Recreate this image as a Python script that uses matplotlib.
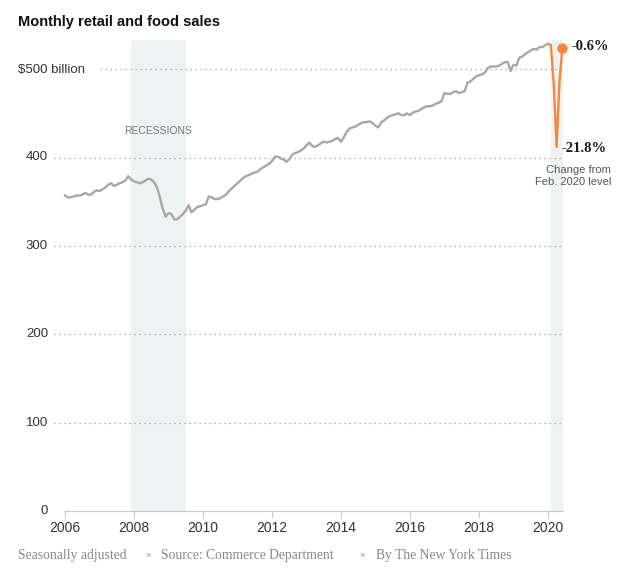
import numpy as np
import matplotlib
matplotlib.use('Agg')
import matplotlib.pyplot as plt

# monthly retail and food sales, $ billion, Jan 2006 - Jun 2020
sales_2006 = [357, 355, 355, 356, 357, 357, 358, 360, 358, 358, 361, 363]
sales_2007 = [362, 364, 366, 369, 371, 368, 369, 371, 372, 374, 379, 375]
sales_2008 = [373, 372, 371, 372, 374, 376, 375, 372, 366, 355, 342, 333]
sales_2009 = [337, 336, 330, 330, 333, 336, 340, 346, 338, 341, 344, 345]
sales_2010 = [346, 347, 356, 355, 353, 353, 354, 356, 358, 362, 365, 368]
sales_2011 = [371, 374, 377, 379, 380, 382, 383, 384, 387, 389, 391, 393]
sales_2012 = [396, 401, 401, 399, 398, 395, 398, 403, 405, 406, 408, 410]
sales_2013 = [414, 417, 413, 412, 414, 416, 418, 417, 418, 419, 421, 422]
sales_2014 = [418, 423, 429, 433, 434, 435, 437, 439, 440, 440, 441, 439]
sales_2015 = [436, 434, 440, 442, 445, 447, 448, 449, 450, 448, 448, 450]
sales_2016 = [448, 451, 452, 453, 455, 457, 458, 458, 459, 461, 462, 464]
sales_2017 = [473, 472, 472, 474, 475, 473, 474, 475, 485, 486, 489, 492]
sales_2018 = [493, 494, 496, 501, 503, 503, 503, 504, 506, 508, 508, 498]
sales_2019 = [505, 504, 513, 514, 517, 519, 521, 523, 522, 525, 525, 527]
sales_2020 = [529, 527, 483, 412, 486, 524]

recessions = [(2007 + 11 / 12, 2009.5), (2020 + 1 / 12, 2020.435)]
yticks = [0, 100, 200, 300, 400, 500]
xticks = [2006, 2008, 2010, 2012, 2014, 2016, 2018, 2020]

sales = np.array(sales_2006 + sales_2007 + sales_2008 + sales_2009 + sales_2010 +
                 sales_2011 + sales_2012 + sales_2013 + sales_2014 + sales_2015 +
                 sales_2016 + sales_2017 + sales_2018 + sales_2019 + sales_2020, dtype=float)
dates = 2006 + np.arange(len(sales)) / 12.0
feb = 169  # index of Feb 2020

W, H = 628, 583
fig = plt.figure(figsize=(W / 100, H / 100), dpi=100)
ax = fig.add_axes([65 / W, (H - 511) / H, (563 - 65) / W, (511 - 40) / H])
ax.set_xlim(2006, 2020.435)
ax.set_ylim(0, 533)

for a, b in recessions:
    ax.axvspan(a, b, color='#eff2f3', lw=0, zorder=0)

# dotted gridlines
for v in yticks[1:]:
    start = 2007.01 if v == 500 else 2005.68
    ax.hlines(v, start, 2020.41, colors='#9a9a9a', lw=0.9,
              linestyles=(0, (1, 3)), clip_on=False, zorder=1)

ax.plot(dates[:feb + 1], sales[:feb + 1], color='#aaa6a2', lw=1.7, zorder=3,
        solid_joinstyle='round', clip_on=False)
ax.plot(dates[feb:], sales[feb:], color='#f5883e', lw=1.7, zorder=4,
        solid_joinstyle='round', clip_on=False)
ax.plot(dates[-1], sales[-1], 'o', color='#f5883e', ms=6.5, zorder=5, clip_on=False)

for s in ['top', 'right', 'left']:
    ax.spines[s].set_visible(False)
ax.spines['bottom'].set_color('#c8c8c8')
ax.set_yticks([])
ax.set_xticks(xticks)
ax.set_xticklabels([str(x) for x in xticks], fontsize=10, color='#333333',
                   family='Liberation Sans')
ax.tick_params(axis='x', length=5, color='#c8c8c8', pad=2)

# y labels
for v in yticks[:-1]:
    y_px = 511 - v * 0.884
    fig.text(48 / W, 1 - y_px / H, str(v), ha='right', va='center',
             fontsize=9.5, color='#333333', family='Liberation Sans')
fig.text(18 / W, 1 - 70 / H, '$500 billion', ha='left', va='center',
         fontsize=9.5, color='#333333', family='Liberation Sans')

ax.text(sum(recessions[0]) / 2, 430, 'RECESSIONS', ha='center', va='center',
        fontsize=7.5, color='#777777', family='Liberation Sans')

# annotations
fig.text(572 / W, 1 - 47 / H, '-0.6%', ha='left', va='center', fontsize=10.5,
         fontweight='bold', color='#1a1a1a', family='Liberation Serif')
fig.text(562 / W, 1 - 148 / H, '-21.8%', ha='left', va='center', fontsize=10.5,
         fontweight='bold', color='#1a1a1a', family='Liberation Serif')
fig.text(611 / W, 1 - 176 / H, 'Change from\nFeb. 2020 level', ha='right', va='center',
         fontsize=8, color='#555555', family='Liberation Sans', linespacing=1.3)

fig.text(18 / W, 1 - 22 / H, 'Monthly retail and food sales', ha='left', va='center',
         fontsize=10.5, fontweight='bold', color='#111111', family='Liberation Sans')

# footer
foot_kw = dict(va='center', fontsize=9.8, color='#888888', family='Liberation Serif')
fig.text(18 / W, 1 - 556 / H, 'Seasonally adjusted', ha='left', **foot_kw)
fig.text(161 / W, 1 - 556 / H, 'Source: Commerce Department', ha='left', **foot_kw)
fig.text(376 / W, 1 - 556 / H, 'By The New York Times', ha='left', **foot_kw)
for xb in [148, 362]:
    fig.text(xb / W, 1 - 554 / H, '\u25aa', ha='center', va='center', fontsize=6,
             color='#d0d0d0', family='DejaVu Sans')

fig.savefig('out.png', dpi=100)
